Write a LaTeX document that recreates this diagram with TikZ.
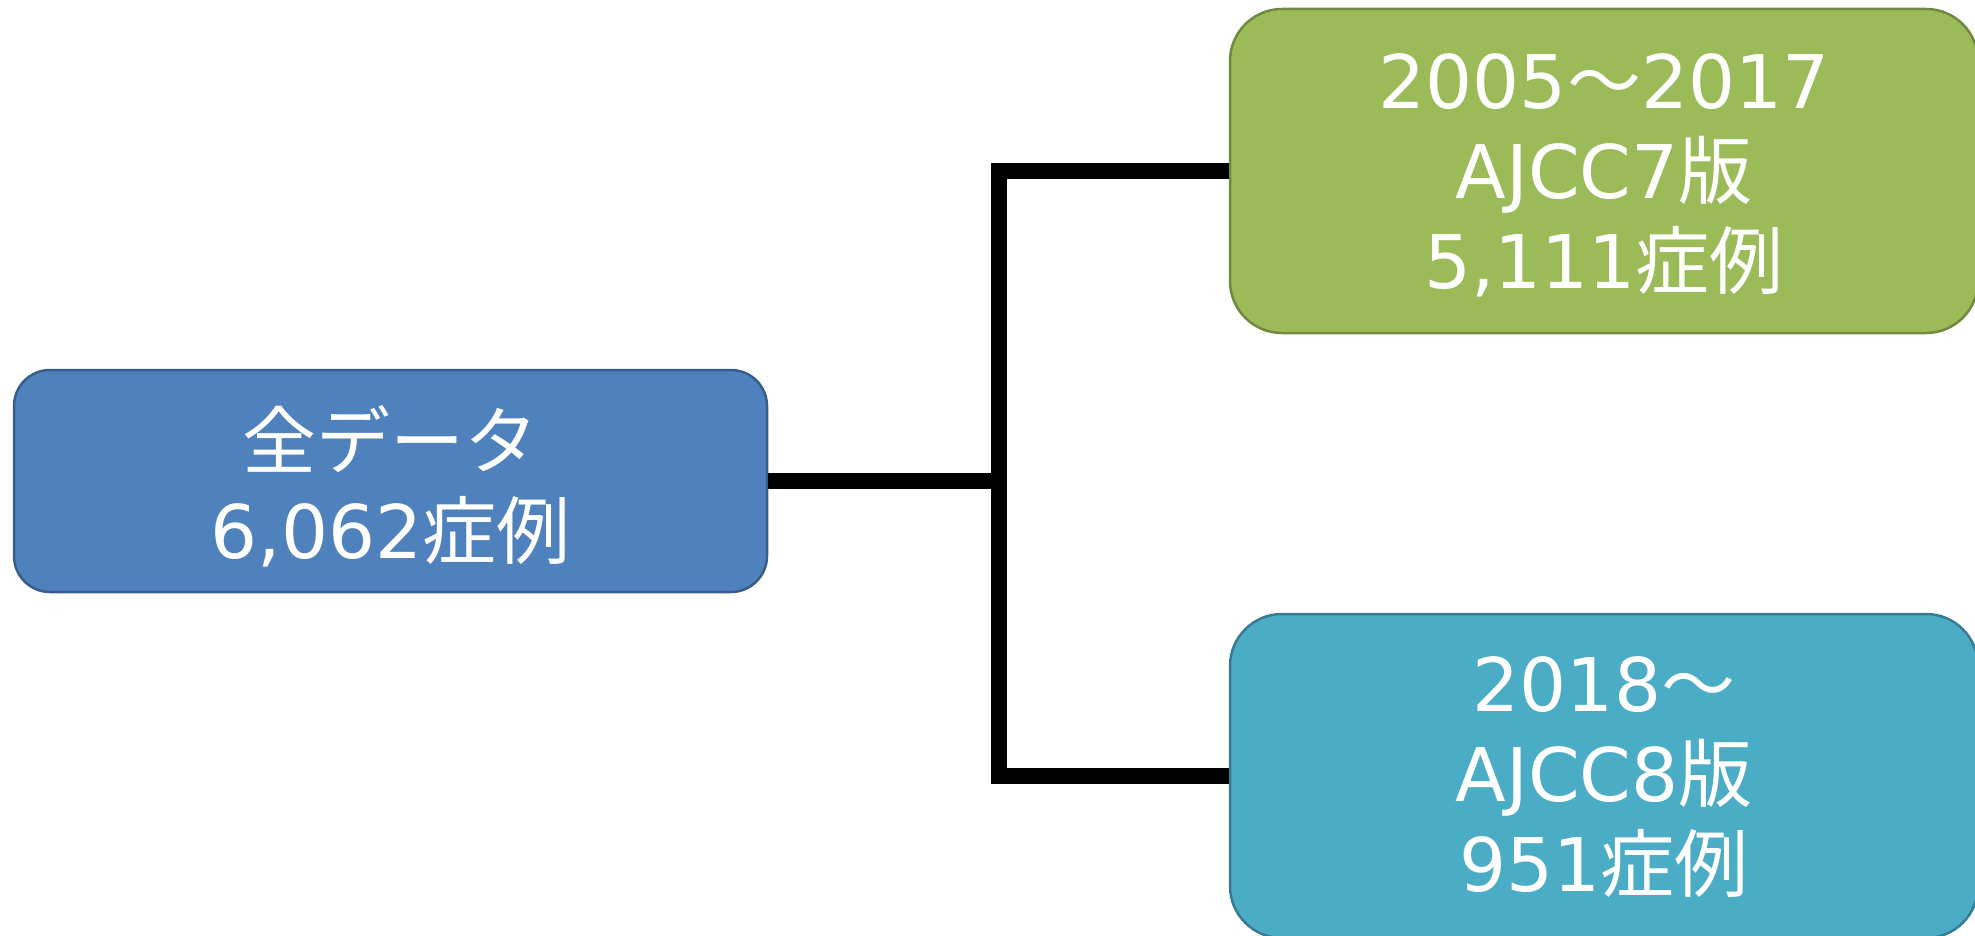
\documentclass[tikz,border=0pt]{standalone}
\usepackage{fontspec}
\setmainfont{DejaVu Sans}
\newfontfamily\jp{Noto Sans CJK JP}
\definecolor{bluefill}{HTML}{4F81BD}
\definecolor{blueedge}{HTML}{385D8A}
\definecolor{greenfill}{HTML}{9BBB59}
\definecolor{greenedge}{HTML}{71893F}
\definecolor{tealfill}{HTML}{4BACC6}
\definecolor{tealedge}{HTML}{357D91}
\tikzset{
  box/.style={rounded corners=#1, line width=2.5pt, inner sep=0pt},
  lbl/.style={text=white, align=center, inner sep=0pt,
    font=\fontsize{74}{90}\selectfont},
  conn/.style={line width=16pt, black, line join=miter, line cap=butt}
}
\begin{document}
\begin{tikzpicture}[x=1pt,y=-1pt]
\useasboundingbox (0,0) rectangle (1975,936);
\clip (0,0) rectangle (1975,936);
\node[box=36pt, fill=bluefill, draw=blueedge, minimum width=753pt, minimum height=222pt]
  (all) at (390.5,481) {};
\node[box=52pt, fill=greenfill, draw=greenedge, minimum width=748pt, minimum height=324pt]
  (v7) at (1604,171) {};
\node[box=52pt, fill=tealfill, draw=tealedge, minimum width=748pt, minimum height=324pt]
  (v8) at (1604,776) {};
\node[lbl] (allt) at ([yshift=-5pt]all.center) {{\jp 全データ}\\6,062{\jp 症例}};
\node[lbl] (v7t) at ([yshift=-4pt]v7.center) {2005{\jp ～}2017\\AJCC7{\jp 版}\\5,111{\jp 症例}};
\node[lbl] (v8t) at ([yshift=-1pt]v8.center) {2018{\jp ～}\\AJCC8{\jp 版}\\951{\jp 症例}};
\coordinate (j) at (999,481);
\coordinate (jt) at (999,171);
\coordinate (jb) at (999,776);
\draw[conn] (all.east) -- (j);
\draw[conn] (v7.west) -- (jt) -- (jb) -- (v8.west);
\end{tikzpicture}
\end{document}
